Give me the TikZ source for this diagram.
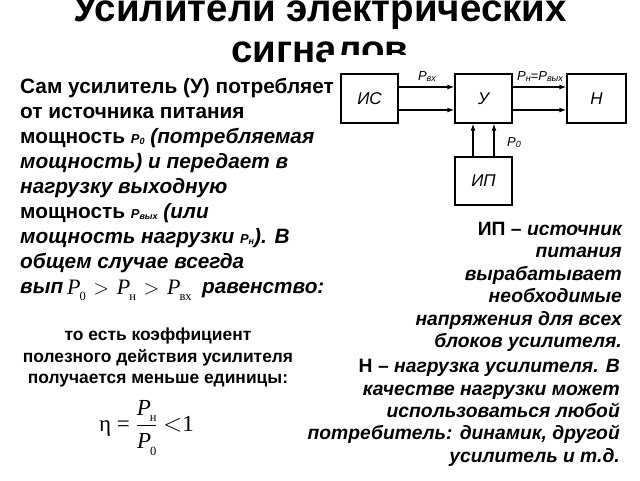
\documentclass[tikz,border=0pt]{standalone}
\usepackage{fontspec}
\setmainfont{Liberation Sans}
\newfontfamily\tnr{Liberation Serif}
\usetikzlibrary{arrows.meta}
\newcommand\sP[1]{{\fontsize{13}{13}\selectfont\itshape P\raisebox{-1.5pt}{\fontsize{9}{9}\selectfont #1}}}
\newcommand\tP[1]{{\tnr\itshape P}\kern-0.05em\raisebox{-0.3em}{\tnr\fontsize{12.5}{12.5}\selectfont #1}}
\newcommand\dP[1]{{\fontsize{13}{13}\selectfont\itshape P\raisebox{-1.5pt}{\fontsize{9}{9}\selectfont #1}}}
\begin{document}
\begin{tikzpicture}[x=1pt,y=-1pt,
  ltxt/.style={inner sep=0pt,anchor=base west,font=\fontsize{20.8}{22}\selectfont\bfseries},
  rtxt/.style={inner sep=0pt,anchor=base east,font=\fontsize{19.3}{21}\selectfont\bfseries},
  ctxt/.style={inner sep=0pt,anchor=base,font=\fontsize{17.4}{19}\selectfont\bfseries},
  ttl/.style={inner sep=0pt,anchor=base,font=\fontsize{38.5}{40}\selectfont\bfseries},
  blk/.style={draw,line width=1.3pt,inner sep=0pt,font=\fontsize{17}{17}\selectfont\itshape},
  arr/.style={line width=1.3pt,-{Latex[length=7pt,width=5pt]}},
  lbl/.style={inner sep=0pt,font=\fontsize{13}{13}\selectfont}]
\useasboundingbox (0,0) rectangle (640,480);
% title
\node[ttl] (t1) at (320,21) {Усилители электрических};
\node[ttl] (t2) at (320,62) {сигналов};
\fill[white] (326,55) rectangle (640,72);
% left text
\node[ltxt] (l1) at (20,93) {Сам усилитель (У) потребляет};
\node[ltxt] (l2) at (20,118) {от источника питания};
\node[ltxt] (l3) at (20,143) {мощность \sP{0} \itshape(потребляемая};
\node[ltxt] (l4) at (20,168) {\itshape мощность) и передает в};
\node[ltxt] (l5) at (20,193) {\itshape нагрузку выходную};
\node[ltxt] (l6) at (20,218) {мощность \sP{вых} \itshape(или};
\node[ltxt] (l7) at (20,243) {\itshape мощность нагрузки \sP{н}). В};
\node[ltxt] (l8) at (20,268) {\itshape общем случае всегда};
\node[ltxt] (l9a) at (20,293) {\itshape вып};
\node[inner sep=0pt,anchor=base west,font=\fontsize{22}{22}\selectfont\tnr] (ineq) at (67,294) {\tP{0}\kern0.35em$>$\kern0.35em\tP{н}\kern0.35em$>$\kern0.35em\tP{вх}};
\node[ltxt] (l9b) at (202,293) {\itshape равенство:};
% block diagram
\node[blk,minimum width=57pt,minimum height=49pt] (is) at (369.5,98.5) {ИС};
\node[blk,minimum width=57pt,minimum height=49pt] (u) at (483.5,98.5) {У};
\node[blk,minimum width=59pt,minimum height=49pt] (n) at (596.5,98.5) {Н};
\node[blk,minimum width=57pt,minimum height=48pt] (ip) at (483.5,181) {ИП};
\draw[arr] (is.east |- 0,87) -- (u.west |- 0,87);
\draw[arr] (is.east |- 0,110) -- (u.west |- 0,110);
\draw[arr] (u.east |- 0,87) -- (n.west |- 0,87);
\draw[arr] (u.east |- 0,110) -- (n.west |- 0,110);
\draw[arr] (ip.north -| 473,0) -- (u.south -| 473,0);
\draw[arr] (ip.north -| 494,0) -- (u.south -| 494,0);
\node[lbl,anchor=base] (pvx) at (427,80) {\dP{вх}};
\node[lbl,anchor=base] (pn) at (540,80) {\dP{н}{\fontsize{13}{13}\selectfont=}\dP{вых}};
\node[lbl,anchor=base] (p0) at (514,146) {\dP{0}};
% right text
\node[rtxt] (r1) at (622,235) {ИП – \itshape источник};
\node[rtxt] (r2) at (622,257) {\itshape питания};
\node[rtxt] (r3) at (622,280) {\itshape вырабатывает};
\node[rtxt] (r4) at (622,302) {\itshape необходимые};
\node[rtxt] (r5) at (622,325) {\itshape напряжения для всех};
\node[rtxt] (r6) at (622,347) {\itshape блоков усилителя.};
\node[rtxt] (s1) at (620,372) {Н – \itshape нагрузка усилителя. В};
\node[rtxt] (s2) at (620,395) {\itshape качестве нагрузки может};
\node[rtxt] (s3) at (620,417) {\itshape использоваться любой};
\node[rtxt] (s4) at (620,439) {\itshape потребитель: динамик, другой};
\node[rtxt] (s5) at (620,462) {\itshape усилитель и т.д.};
% bottom left
\node[ctxt] (c1) at (158,340) {то есть коэффициент};
\node[ctxt] (c2) at (158,362) {полезного действия усилителя};
\node[ctxt] (c3) at (158,383) {получается меньше единицы:};
\node[inner sep=0pt,anchor=west,font=\fontsize{23}{23}\selectfont\tnr] (eta) at (99,428) {η = $\displaystyle\frac{\mbox{\tP{н}}}{\mbox{\tP{0}}}$ $<$1};
\end{tikzpicture}
\end{document}
